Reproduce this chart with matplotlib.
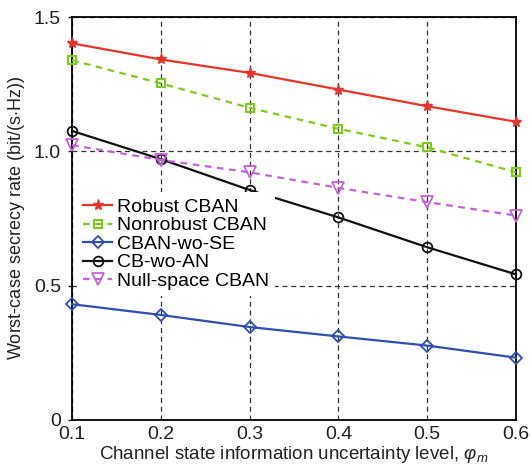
import matplotlib
matplotlib.use("Agg")
import matplotlib.pyplot as plt

plt.rcParams['font.family'] = ['Liberation Sans', 'DejaVu Sans']
plt.rcParams['mathtext.fontset'] = 'custom'
plt.rcParams['mathtext.it'] = 'Liberation Sans:italic'
plt.rcParams['mathtext.rm'] = 'Liberation Sans'

x = [0.1, 0.2, 0.3, 0.4, 0.5, 0.6]
robust = [1.402, 1.342, 1.292, 1.230, 1.168, 1.110]
nonrobust = [1.339, 1.253, 1.162, 1.084, 1.015, 0.922]
wo_se = [0.431, 0.391, 0.346, 0.311, 0.277, 0.232]
cb_wo_an = [1.076, 0.971, 0.856, 0.754, 0.643, 0.542]
nullspace = [1.023, 0.968, 0.922, 0.864, 0.811, 0.761]

labels = ['Robust CBAN', 'Nonrobust CBAN', 'CBAN-wo-SE', 'CB-wo-AN', 'Null-space CBAN']
xticks = [0.1, 0.2, 0.3, 0.4, 0.5, 0.6]
yticks = [0, 0.5, 1.0, 1.5]
yticklabels = ['0', '0.5', '1.0', '1.5']

fig = plt.figure(figsize=(5.32, 4.70), dpi=100)
ax = fig.add_axes([72/532, 1 - 420/470, 444/532, 403/470])

red = '#e8352b'
green = '#7ccb1c'
blue = '#2f4fae'
black = '#111111'
mag = '#c463d6'

ax.plot(x, robust, color=red, lw=1.6, ls='-', marker='*', ms=8, mfc=red, mec=red, label=labels[0], clip_on=False, zorder=5)
ax.plot(x, nonrobust, color=green, lw=1.6, ls=(0, (3, 2.5)), marker='s', ms=6, mfc='none', mec=green, mew=1.5, label=labels[1], clip_on=False, zorder=5)
ax.plot(x, wo_se, color=blue, lw=1.6, ls='-', marker='D', ms=6, mfc='none', mec=blue, mew=1.3, label=labels[2], clip_on=False, zorder=5)
ax.plot(x, cb_wo_an, color=black, lw=1.6, ls='-', marker='o', ms=7, mfc='none', mec=black, mew=1.3, label=labels[3], clip_on=False, zorder=5)
ax.plot(x, nullspace, color=mag, lw=1.6, ls=(0, (3, 2.5)), marker='v', ms=8, mfc='none', mec=mag, mew=1.3, label=labels[4], clip_on=False, zorder=5)

ax.set_xlim(0.1, 0.6)
ax.set_ylim(0, 1.5)
ax.set_xticks(xticks)
ax.set_xticklabels([f'{v:.1f}' for v in xticks])
ax.set_yticks(yticks)
ax.set_yticklabels(yticklabels)
ax.grid(True, color='#333333', ls=(0, (4, 3)), lw=0.9)
ax.set_axisbelow(True)
for s in ax.spines.values():
    s.set_linewidth(1.3)
ax.tick_params(axis='both', labelsize=14, colors='#222222', length=3, width=1, direction='out')
ax.tick_params(axis='y', pad=5)
ax.tick_params(axis='x', length=0, pad=4)

ax.set_xlabel(r'Channel state information uncertainty level, $\varphi_m$', fontsize=13.5, color='#222222', labelpad=1)
ax.set_ylabel('Worst-case secrecy rate (bit/(s$\\cdot$Hz))', fontsize=13, color='#222222', labelpad=5)

leg = ax.legend(loc='upper left', bbox_to_anchor=(0.012, 0.565), fontsize=14, frameon=True,
                fancybox=False, edgecolor='none', facecolor='white', framealpha=1,
                labelspacing=0.05, handlelength=1.5, handletextpad=0.25, borderpad=0.3, borderaxespad=0)
leg.set_zorder(10)

fig.savefig('out.png', dpi=100)
